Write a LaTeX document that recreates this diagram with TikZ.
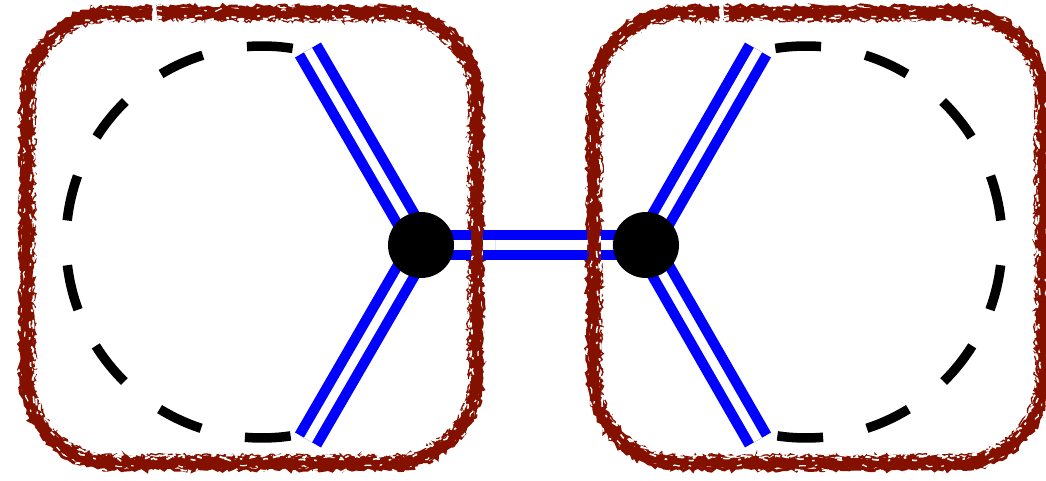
\documentclass[tikz,border=0pt]{standalone}
\usetikzlibrary{decorations.pathmorphing,calc}
\definecolor{roughred}{RGB}{132,16,0}
\pgfdeclarelayer{bg}
\pgfsetlayers{bg,main}
\tikzset{
  bond/.style={draw=blue,line width=10.4pt,double=white,double distance=9.2pt},
  vertex/.style={circle,fill=black,minimum size=66pt,inner sep=0pt},
  dashseg/.style={draw=black,line width=9.5pt},
  roughline/.style n args={2}{draw=roughred,decorate,line join=miter,
    decoration={random steps,segment length=#1,amplitude=#2}},
  speckline/.style n args={2}{draw=white,decorate,
    dash pattern=on 5pt off #1 on 2.5pt off 9pt on 7pt off #2,
    decoration={random steps,segment length=3.5pt,amplitude=1.3pt}},
}
\newcommand{\boxpath}[2]{% #1 = left edge, #2 = inset
    \pgfmathsetmacro{\xl}{#1+#2}%
    \pgfmathsetmacro{\xr}{#1+449-#2}%
    \pgfmathsetmacro{\yt}{467-#2}%
    \pgfmathsetmacro{\yb}{17+#2}%
    \pgfmathsetmacro{\rr}{85-#2}%
    \pgfmathsetmacro{\xa}{#1+130}%
    \pgfmathsetmacro{\xz}{#1+125}%
    \def\thepath{(\xa,\yt) -- (\xr-\rr,\yt) arc (90:0:\rr) -- (\xr,\yb+\rr) arc (0:-90:\rr)
      -- (\xl+\rr,\yb) arc (270:180:\rr) -- (\xl,\yt-\rr) arc (180:90:\rr) -- (\xz,\yt)}%
}
\newcommand{\roughbox}[1]{%
  \foreach \d/\w/\s/\m in {0/9/6/1.5, -6/3/3.5/2.2, -4/3/4/1.8, 4/3/4/1.8, 5.5/2.2/3/2.4, 7.2/1.3/2.5/2.2}{%
    \boxpath{#1}{\d}%
    \draw[roughline={\s pt}{\m pt},line width=\w pt] \thepath;
  }%
  \foreach \d/\w/\p/\q in {3.5/1.6/23pt/31pt, 6/1.9/13pt/19pt, 7.5/1.7/17pt/11pt, -7.5/1.6/37pt/23pt, -3/1.2/47pt/61pt}{%
    \boxpath{#1}{\d}%
    \draw[speckline={\p}{\q},line width=\w pt] \thepath;
  }%
}
\begin{document}
\begin{tikzpicture}[x=1pt,y=1pt]
  \useasboundingbox (0,0) rectangle (1046,480);
  \clip (0,0) rectangle (1046,480);
  \pgfmathsetseed{4242}
  \node[vertex] (a) at (421,235) {};
  \node[vertex] (b) at (646,235) {};
  \coordinate (a1) at (308,430);
  \coordinate (a2) at (308,40);
  \coordinate (b1) at (758,430);
  \coordinate (b2) at (758,40);
  \begin{pgfonlayer}{bg}
  \foreach \a in {81,107.6,134.2,160.3,186.8,212,238.5,265}{
    \draw[dashseg] ($(262,238)+(\a:196)$) arc (\a:\a+13.4:196);
    \draw[dashseg] ($(806,238)+(180-\a:196)$) arc (180-\a:180-\a-13.4:196);
  }
  \draw[bond] (a.center) -- (a1);
  \draw[bond] (a.center) -- (a2);
  \draw[bond] (a.center) -- (b.center);
  \draw[bond] (b.center) -- (b1);
  \draw[bond] (b.center) -- (b2);
  \roughbox{27}
  \roughbox{594}
  \begin{scope}
    \clip (460,215) rectangle (471,255) (483,215) rectangle (495,255)
          (570,215) rectangle (587,255) (601,215) rectangle (612,255);
    \draw[bond] (a.center) -- (b.center);
  \end{scope}
  \end{pgfonlayer}
\end{tikzpicture}
\end{document}
